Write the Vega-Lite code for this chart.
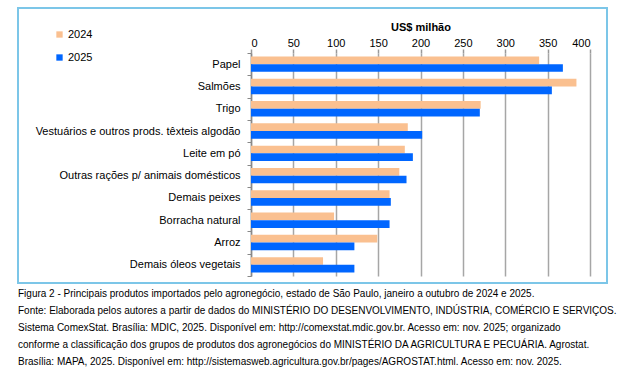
{
  "$schema": "https://vega.github.io/schema/vega-lite/v6.json",
  "width": 589,
  "height": 275,
  "autosize": "none",
  "padding": {"left": 18, "top": 8, "right": 19, "bottom": 90},
  "background": "white",
  "config": {
    "font": "Liberation Sans",
    "view": {"stroke": "#7CC6E8", "strokeWidth": 2}
  },
  "title": {
    "text": [
      "Figura 2 - Principais produtos importados pelo agronegócio, estado de São Paulo, janeiro a outubro de 2024 e 2025.",
      "Fonte: Elaborada pelos autores a partir de dados do MINISTÉRIO DO DESENVOLVIMENTO, INDÚSTRIA, COMÉRCIO E SERVIÇOS.",
      "Sistema ComexStat. Brasília: MDIC, 2025. Disponível em: http://comexstat.mdic.gov.br. Acesso em: nov. 2025; organizado",
      "conforme a classificação dos grupos de produtos dos agronegócios do MINISTÉRIO DA AGRICULTURA E PECUÁRIA. Agrostat.",
      "Brasília: MAPA, 2025. Disponível em: http://sistemasweb.agricultura.gov.br/pages/AGROSTAT.html. Acesso em: nov. 2025."
    ],
    "orient": "bottom",
    "anchor": "start",
    "frame": "group",
    "offset": 6,
    "fontSize": 10,
    "fontWeight": "normal",
    "lineHeight": 17,
    "limit": 0,
    "color": "#000000"
  },
  "data": {
    "values": [
      {"produto": "Papel", "ano": "2024", "valor": 340},
      {"produto": "Papel", "ano": "2025", "valor": 368},
      {"produto": "Salmões", "ano": "2024", "valor": 384},
      {"produto": "Salmões", "ano": "2025", "valor": 355},
      {"produto": "Trigo", "ano": "2024", "valor": 271},
      {"produto": "Trigo", "ano": "2025", "valor": 270},
      {"produto": "Vestuários e outros prods. têxteis algodão", "ano": "2024", "valor": 185},
      {"produto": "Vestuários e outros prods. têxteis algodão", "ano": "2025", "valor": 202},
      {"produto": "Leite em pó", "ano": "2024", "valor": 181.5},
      {"produto": "Leite em pó", "ano": "2025", "valor": 191},
      {"produto": "Outras rações p/ animais domésticos", "ano": "2024", "valor": 175},
      {"produto": "Outras rações p/ animais domésticos", "ano": "2025", "valor": 183.5},
      {"produto": "Demais peixes", "ano": "2024", "valor": 163.5},
      {"produto": "Demais peixes", "ano": "2025", "valor": 165},
      {"produto": "Borracha natural", "ano": "2024", "valor": 98},
      {"produto": "Borracha natural", "ano": "2025", "valor": 163.5},
      {"produto": "Arroz", "ano": "2024", "valor": 149},
      {"produto": "Arroz", "ano": "2025", "valor": 122},
      {"produto": "Demais óleos vegetais", "ano": "2024", "valor": 85},
      {"produto": "Demais óleos vegetais", "ano": "2025", "valor": 122}
    ]
  },
  "mark": {"type": "bar"},
  "encoding": {
    "y": {
      "field": "produto",
      "type": "nominal",
      "sort": null,
      "scale": {"range": [45, 268], "paddingInner": 0, "paddingOuter": 0},
      "axis": {
        "title": null,
        "offset": -233,
        "tickBand": "extent",
        "tickSize": 4,
        "tickColor": "#888888",
        "domainColor": "#888888",
        "domainWidth": 1.5,
        "labelFontSize": 11,
        "labelColor": "#000000",
        "labelPadding": 7,
        "labelLimit": 0,
        "grid": false
      }
    },
    "yOffset": {
      "field": "ano",
      "type": "nominal",
      "scale": {"paddingInner": 0, "paddingOuter": 0.45}
    },
    "x": {
      "field": "valor",
      "type": "quantitative",
      "scale": {"domain": [0, 400], "range": [233, 572], "nice": false, "zero": true},
      "axis": {
        "orient": "top",
        "title": "US$ milhão",
        "titleFontSize": 11,
        "titleFontWeight": "bold",
        "titleColor": "#000000",
        "titlePadding": 5,
        "offset": -45,
        "values": [0, 50, 100, 150, 200, 250, 300, 350, 400],
        "domain": false,
        "tickSize": 4,
        "tickColor": "#999999",
        "tickWidth": 1.5,
        "grid": true,
        "gridColor": "#A6A6A6",
        "gridWidth": 1.5,
        "labelFontSize": 11,
        "labelColor": "#000000",
        "labelPadding": 1
      }
    },
    "color": {
      "field": "ano",
      "type": "nominal",
      "scale": {"domain": ["2024", "2025"], "range": ["#FAC090", "#0066FF"]},
      "legend": {
        "title": null,
        "orient": "none",
        "legendX": 36,
        "legendY": 21,
        "symbolType": "square",
        "symbolSize": 40,
        "labelFontSize": 11,
        "labelColor": "#000000",
        "rowPadding": 11,
        "labelOffset": 3
      }
    }
  }
}
